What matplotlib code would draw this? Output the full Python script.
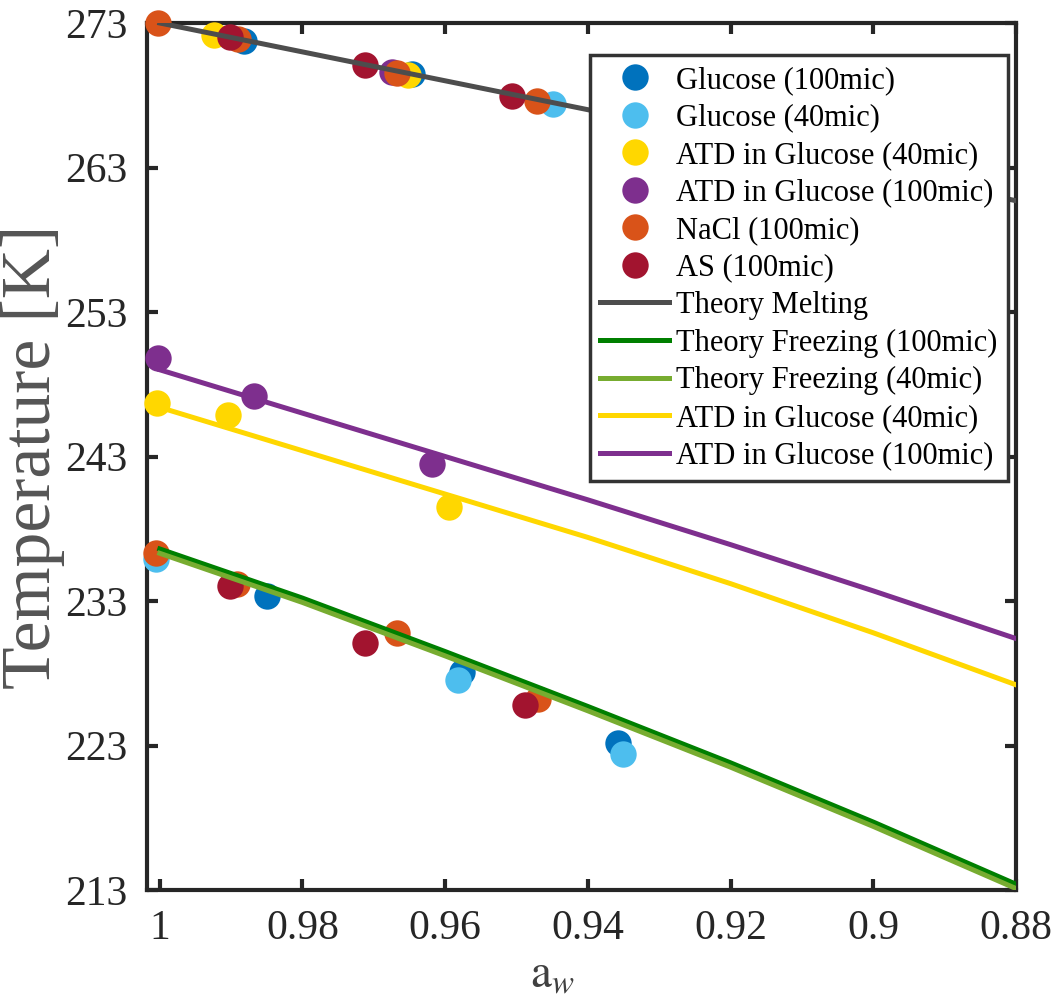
import numpy as np
import matplotlib.pyplot as plt

plt.rcParams['font.family'] = ['Liberation Serif', 'DejaVu Serif']
plt.rcParams['mathtext.fontset'] = 'stix'

# measured points (water activity, temperature in K)
glu100_aw = [0.9882, 0.9647, 0.9850, 0.9577, 0.9358]
glu100_T = [271.78, 269.47, 233.35, 228.1, 223.15]
glu40_aw = [0.9449, 1.0005, 0.9582, 0.9351]
glu40_T = [267.39, 235.88, 227.53, 222.41]
atd40_aw = [0.9924, 0.9652, 1.0004, 0.9904, 0.9595]
atd40_T = [272.17, 269.40, 246.68, 245.87, 239.53]
atd100_aw = [0.9674, 1.0002, 0.9868, 0.9619]
atd100_T = [269.63, 249.8, 247.19, 242.46]
nacl_aw = [1.0003, 0.9890, 0.9668, 0.9471, 1.0005, 0.9892, 0.9668, 0.9470]
nacl_T = [273.0, 271.87, 269.56, 267.62, 236.3, 234.18, 230.76, 226.2]
as_aw = [0.9901, 0.9713, 0.9507, 0.9902, 0.9712, 0.9488]
as_T = [272.0, 270.09, 267.97, 234.04, 230.11, 225.8]

# theory curves
th_aw = [1.0, 0.98, 0.96, 0.94, 0.92, 0.90, 0.88]
melt_T = [273.0, 271.0, 269.0, 267.0, 264.9, 262.8, 260.7]
frz100_T = [236.6, 233.2, 229.5, 225.7, 221.8, 217.7, 213.4]
frz40_T = [236.3, 232.9, 229.2, 225.4, 221.5, 217.4, 213.1]
atd40_fit = [246.4, 243.4, 240.4, 237.4, 234.2, 230.8, 227.2]
atd100_fit = [249.0, 246.0, 243.0, 240.0, 236.9, 233.7, 230.4]

xticks = [1, 0.98, 0.96, 0.94, 0.92, 0.9, 0.88]
xticklabels = ['1', '0.98', '0.96', '0.94', '0.92', '0.9', '0.88']
yticks = [213, 223, 233, 243, 253, 263, 273]

fig = plt.figure(figsize=(10.58, 10.0), dpi=100)
ax = fig.add_axes([0.1389, 0.110, 0.8214, 0.867])

ms = 19
pts = [
    (glu100_aw, glu100_T, '#0072BD', 'Glucose (100mic)'),
    (glu40_aw, glu40_T, '#4DBEEE', 'Glucose (40mic)'),
    (atd40_aw, atd40_T, '#FFD700', 'ATD in Glucose (40mic)'),
    (atd100_aw, atd100_T, '#7E2F8E', 'ATD in Glucose (100mic)'),
    (nacl_aw, nacl_T, '#D95319', 'NaCl (100mic)'),
    (as_aw, as_T, '#A2142F', 'AS (100mic)'),
]
for xs, ys, c, lab in pts:
    ax.plot(xs, ys, 'o', color=c, markersize=ms, markeredgewidth=0,
            label=lab, clip_on=False, zorder=3)

lw = 3.6
ax.plot(th_aw, melt_T, color='#4D4D4D', lw=lw, label='Theory Melting', zorder=4)
ax.plot(th_aw, frz100_T, color='#007F00', lw=lw, label='Theory Freezing (100mic)', zorder=4)
ax.plot(th_aw, frz40_T, color='#77AC30', lw=lw, label='Theory Freezing (40mic)', zorder=4)
ax.plot(th_aw, atd40_fit, color='#FFD700', lw=lw, label='ATD in Glucose (40mic)', zorder=4)
ax.plot(th_aw, atd100_fit, color='#7E2F8E', lw=lw, label='ATD in Glucose (100mic)', zorder=4)

ax.set_xlim(1.0018, 0.88)
ax.set_ylim(213, 273)
ax.set_xticks(xticks)
ax.set_xticklabels(xticklabels)
ax.set_yticks(yticks)

for sp in ax.spines.values():
    sp.set_linewidth(3)
    sp.set_color('#262626')
ax.tick_params(direction='in', top=True, right=True, length=8, width=3,
               color='#262626', labelcolor='#262626', labelsize=30)
ax.tick_params(axis='x', pad=14)
ax.tick_params(axis='y', pad=14)

ax.set_ylabel('Temperature [K]', fontsize=50, color='#555555', labelpad=0)
ax.set_xlabel(r'$\mathrm{a}_w$', fontsize=34, color='#404040')
ax.xaxis.label.set_va('bottom')
ax.xaxis.set_label_coords(0.467, -0.124)

leg = ax.legend(loc='upper right', bbox_to_anchor=(0.991, 0.963), fontsize=22,
                frameon=True, fancybox=False, framealpha=1, edgecolor='#333333',
                handlelength=2.25, handletextpad=0.23, labelspacing=0.28,
                borderpad=0.35, borderaxespad=0)
leg.get_frame().set_linewidth(2.5)
leg.set_zorder(10)

plt.savefig('out.png', dpi=100)
